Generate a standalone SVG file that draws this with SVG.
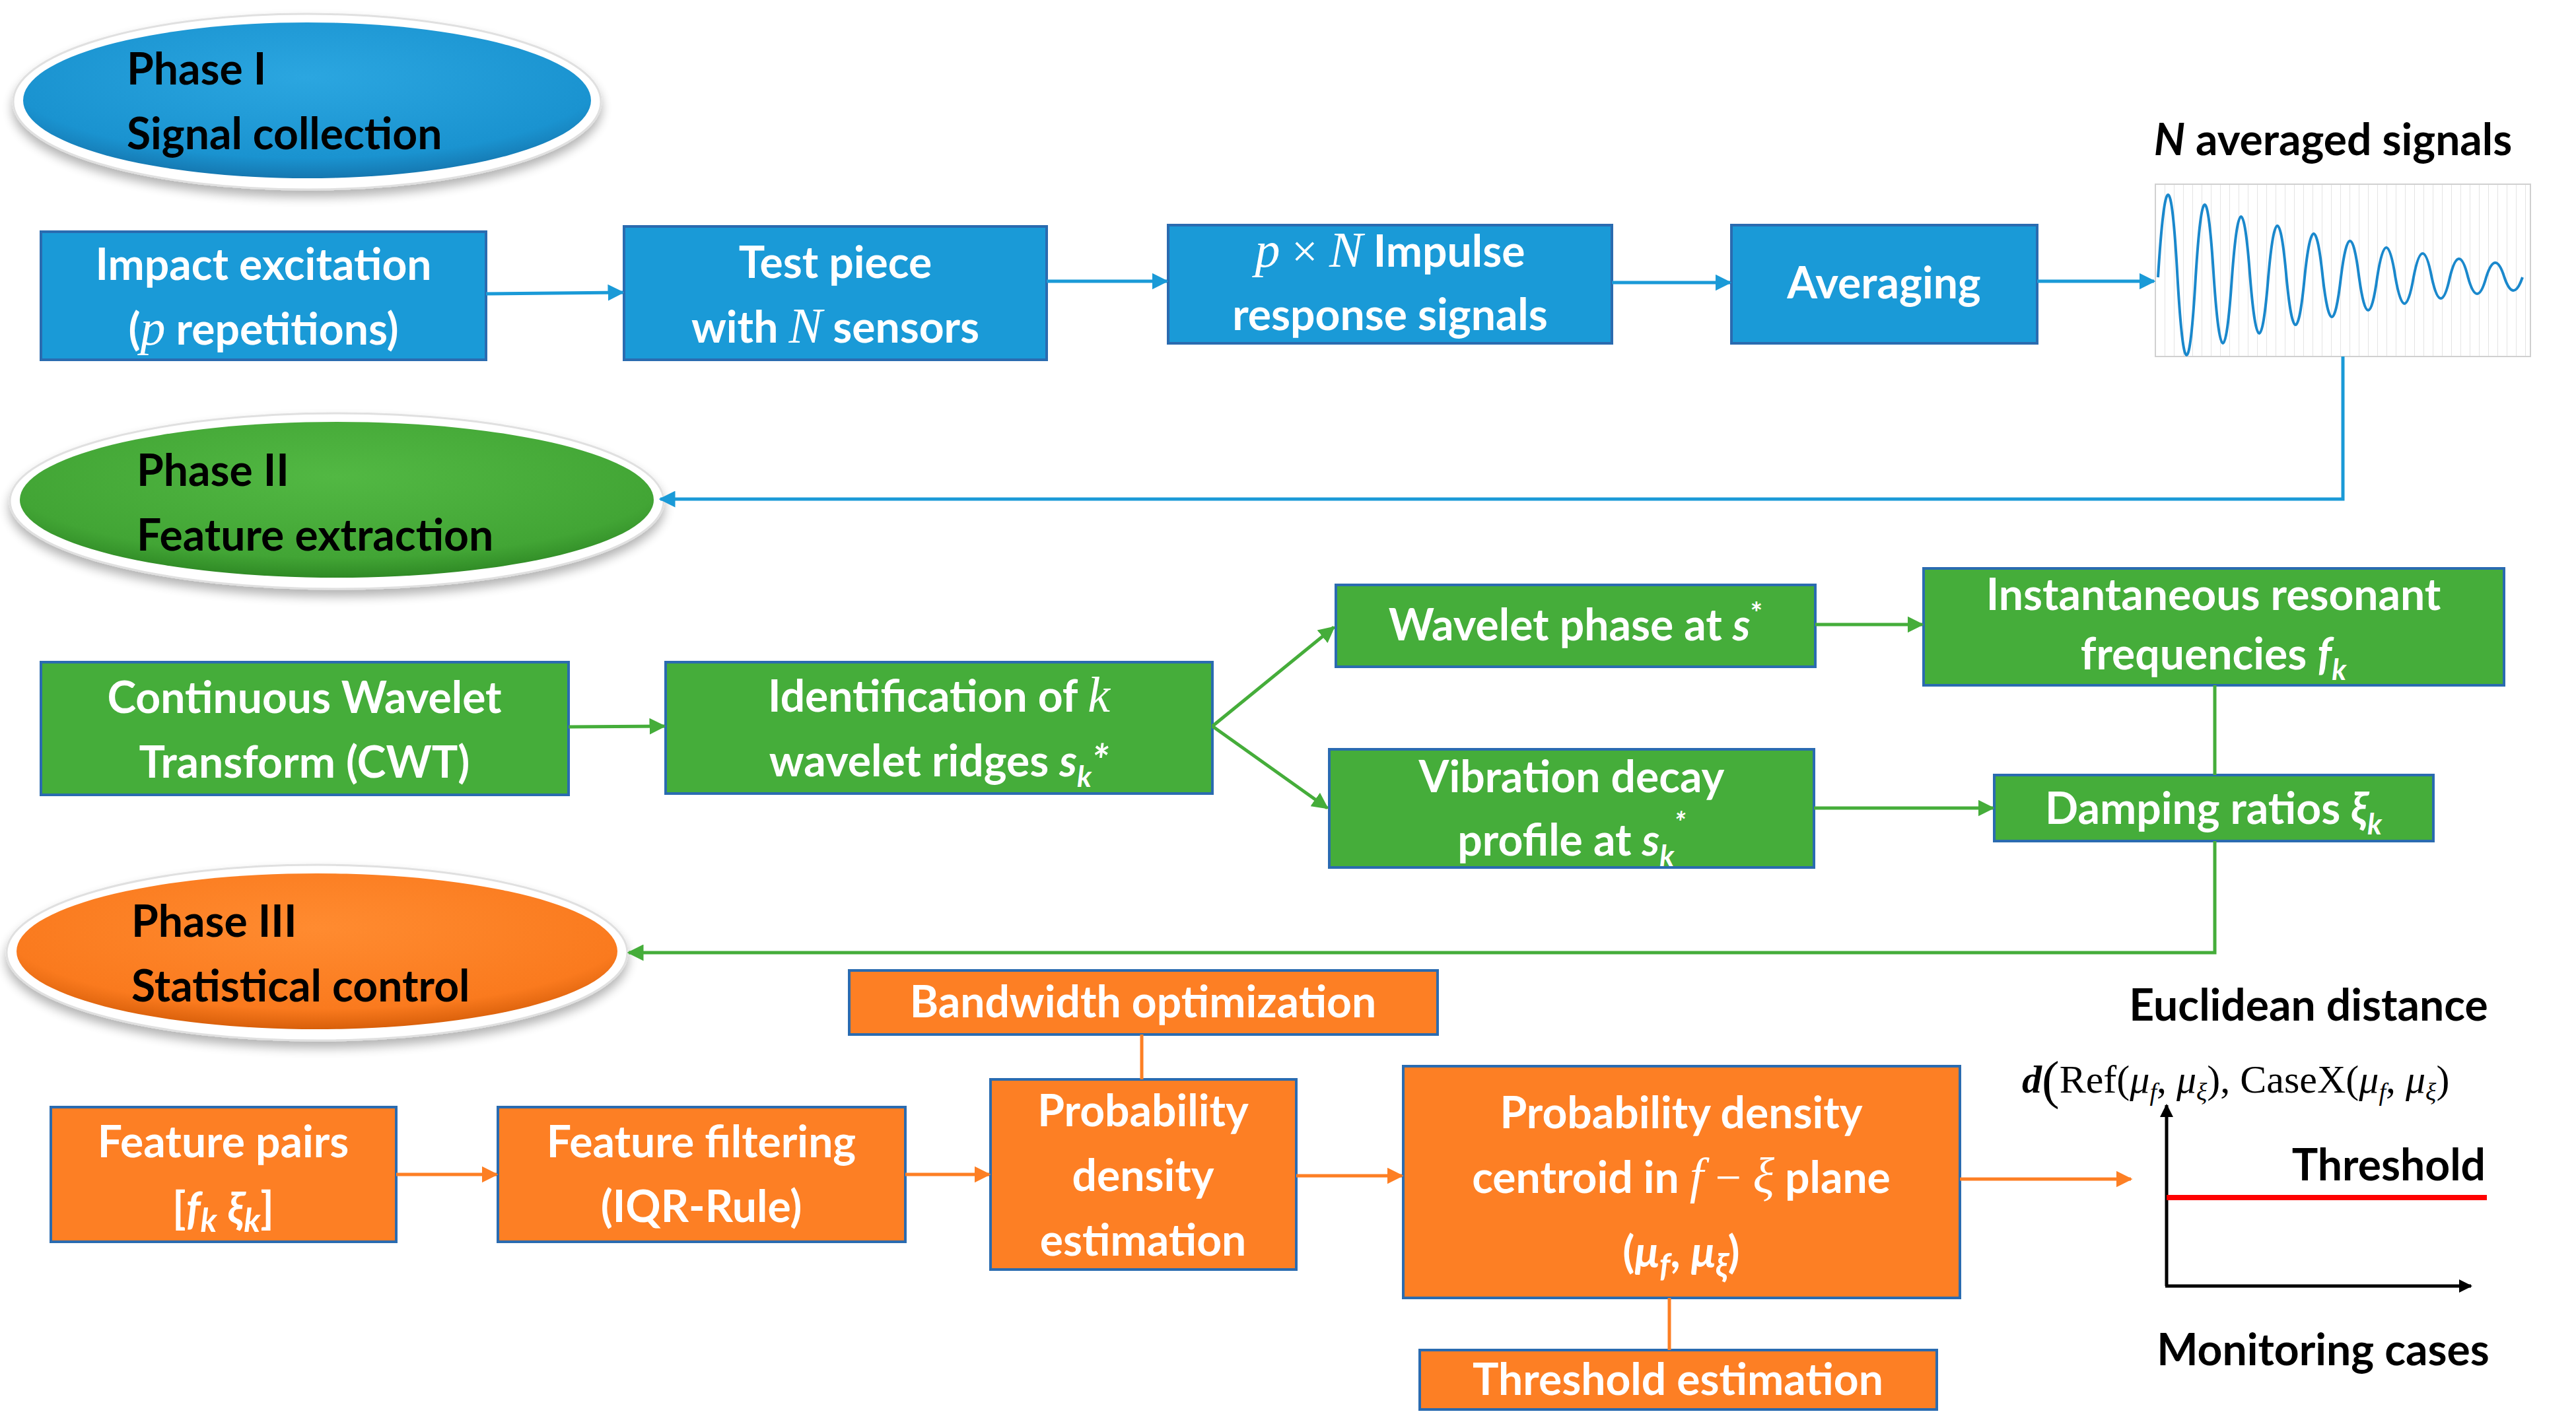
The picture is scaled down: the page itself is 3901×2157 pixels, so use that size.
<svg xmlns="http://www.w3.org/2000/svg" width="3901" height="2157" viewBox="0 0 3901 2157">
<defs>
<style>
.t{font-family:Lato,"Liberation Sans",sans-serif;font-weight:bold;font-size:66px;fill:#fff;text-anchor:middle}
.k{font-family:Lato,"Liberation Sans",sans-serif;font-weight:bold;font-size:66px;fill:#000}
.m{font-family:"Liberation Serif",serif;font-style:italic;font-weight:normal}
.bb{fill:#1A9AD7;stroke:#2A6BB0;stroke-width:4}
.gb{fill:#45AD3A;stroke:#2A6BB0;stroke-width:4}
.ob{fill:#FD7F24;stroke:#2A6BB0;stroke-width:4}
.cb{stroke:#1A9AD7;stroke-width:5;fill:none}
.cg{stroke:#45AD3A;stroke-width:5;fill:none}
.co{stroke:#FD7F24;stroke-width:5;fill:none}
</style>
<marker id="ab" viewBox="0 0 10 10" refX="9" refY="5" markerWidth="5" markerHeight="5" orient="auto"><path d="M0,0L10,5L0,10z" fill="#1A9AD7"/></marker>
<marker id="ag" viewBox="0 0 10 10" refX="9" refY="5" markerWidth="5" markerHeight="5" orient="auto"><path d="M0,0L10,5L0,10z" fill="#45AD3A"/></marker>
<marker id="ao" viewBox="0 0 10 10" refX="9" refY="5" markerWidth="5" markerHeight="5" orient="auto"><path d="M0,0L10,5L0,10z" fill="#FD7F24"/></marker>
<marker id="ak" viewBox="0 0 10 10" refX="9" refY="5" markerWidth="4" markerHeight="4" orient="auto"><path d="M0,0L10,5L0,10z" fill="#000"/></marker>
<radialGradient id="gB" cx="50%" cy="35%" r="65%"><stop offset="0" stop-color="#2BA6E0"/><stop offset="0.8" stop-color="#1A93D0"/><stop offset="1" stop-color="#1577B0"/></radialGradient>
<radialGradient id="gG" cx="50%" cy="35%" r="65%"><stop offset="0" stop-color="#52B843"/><stop offset="0.8" stop-color="#42A535"/><stop offset="1" stop-color="#2F8A25"/></radialGradient>
<radialGradient id="gO" cx="50%" cy="35%" r="65%"><stop offset="0" stop-color="#FF8B30"/><stop offset="0.8" stop-color="#FA7A1E"/><stop offset="1" stop-color="#D85F0A"/></radialGradient>
<filter id="sh" x="-10%" y="-20%" width="120%" height="150%"><feGaussianBlur in="SourceAlpha" stdDeviation="8"/><feOffset dy="10"/><feComponentTransfer><feFuncA type="linear" slope="0.3"/></feComponentTransfer><feMerge><feMergeNode/><feMergeNode in="SourceGraphic"/></feMerge></filter>
<pattern id="grid" width="14" height="300" patternUnits="userSpaceOnUse" x="3264"><line x1="0.5" y1="0" x2="0.5" y2="300" stroke="#e4e4e4" stroke-width="1"/></pattern>
</defs>
<rect width="3901" height="2157" fill="#fff"/>

<g id="phase1"><ellipse cx="465" cy="154" rx="445" ry="133" fill="#fff" stroke="#e0e0e0" stroke-width="3" filter="url(#sh)"/><ellipse cx="465" cy="152" rx="430" ry="118" fill="url(#gB)"/>
<text class="k" x="192" y="128">Phase I</text><text class="k" x="192" y="226">Signal collection</text></g>
<g id="phase2"><ellipse cx="510" cy="759" rx="495" ry="133" fill="#fff" stroke="#e0e0e0" stroke-width="3" filter="url(#sh)"/><ellipse cx="510" cy="757" rx="480" ry="118" fill="url(#gG)"/>
<text class="k" x="207" y="736">Phase II</text><text class="k" x="207" y="834">Feature extraction</text></g>
<g id="phase3"><ellipse cx="480" cy="1443" rx="470" ry="133" fill="#fff" stroke="#e0e0e0" stroke-width="3" filter="url(#sh)"/><ellipse cx="480" cy="1441" rx="455" ry="118" fill="url(#gO)"/>
<text class="k" x="199" y="1419">Phase III</text><text class="k" x="199" y="1517">Statistical control</text></g>

<g id="impact"><rect class="bb" x="62" y="351" width="674" height="194"/><text class="t" x="399" y="424">Impact excitation</text><text class="t" x="399" y="522">(<tspan class="m" font-size="76">p</tspan> repetitions)</text></g>
<g id="testpiece"><rect class="bb" x="945" y="343" width="640" height="202"/><text class="t" x="1265" y="421">Test piece</text><text class="t" x="1265" y="519">with <tspan class="m" font-size="76">N</tspan> sensors</text></g>
<g id="impulse"><rect class="bb" x="1769" y="341" width="672" height="179"/><text class="t" x="2105" y="404"><tspan class="m" font-size="76">p</tspan><tspan font-family="'Liberation Serif',serif" font-weight="normal" font-size="70"> × </tspan><tspan class="m" font-size="76">N</tspan> Impulse</text><text class="t" x="2105" y="500">response signals</text></g>
<g id="averaging"><rect class="bb" x="2622" y="341" width="463" height="179"/><text class="t" x="2853" y="452">Averaging</text></g>
<g id="signals"><text class="k" x="3533" y="235" text-anchor="middle"><tspan font-style="italic">N</tspan> averaged signals</text>
<rect x="3264" y="279" width="568" height="261" fill="url(#grid)" stroke="#d0d0d0" stroke-width="2"/>
<path d="M3268,420Q3283.75,170 3297.5,420Q3311.25,656 3325,420Q3338.75,200 3352.5,420Q3366.25,620 3380,420Q3393.75,236 3407.5,420Q3421.25,590 3435,420Q3448.75,264 3462.5,420Q3476.25,564 3490,420Q3503.75,288 3517.5,420Q3531.25,540 3545,420Q3558.75,310 3572.5,420Q3586.25,520 3600,420Q3613.75,330 3627.5,420Q3641.25,500 3655,420Q3668.75,348 3682.5,420Q3696.25,484 3710,420Q3723.75,364 3737.5,420Q3751.25,470 3765,420Q3778.75,376 3792.5,420Q3806.25,460 3820,420" fill="none" stroke="#1A88CC" stroke-width="4"/></g>

<g id="cwt"><rect class="gb" x="62" y="1003" width="799" height="201"/><text class="t" x="461" y="1080">Continuous Wavelet</text><text class="t" x="461" y="1178">Transform (CWT)</text></g>
<g id="ident"><rect class="gb" x="1008" y="1003" width="828" height="199"/><text class="t" x="1422" y="1078">Identification of <tspan class="m" font-size="76">k</tspan></text><text class="t" x="1422" y="1176">wavelet ridges <tspan font-style="italic">s<tspan font-size="44" dy="16">k</tspan><tspan dy="-16">*</tspan></tspan></text></g>
<g id="phase"><rect class="gb" x="2023" y="886" width="726" height="124"/><text class="t" x="2386" y="970">Wavelet phase at <tspan font-style="italic">s</tspan><tspan font-size="44" dy="-26">*</tspan></text></g>
<g id="inst"><rect class="gb" x="2913" y="861" width="879" height="177"/><text class="t" x="3352" y="924">Instantaneous resonant</text><text class="t" x="3352" y="1014">frequencies <tspan font-style="italic">f<tspan font-size="44" dy="16">k</tspan></tspan></text></g>
<g id="decay"><rect class="gb" x="2013" y="1135" width="734" height="179"/><text class="t" x="2380" y="1200">Vibration decay</text><text class="t" x="2380" y="1296">profile at <tspan font-style="italic">s<tspan font-size="44" dy="16">k</tspan><tspan font-size="44" dy="-50">*</tspan></tspan></text></g>
<g id="damping"><rect class="gb" x="3020" y="1174" width="665" height="100"/><text class="t" x="3352" y="1248">Damping ratios <tspan font-style="italic">ξ<tspan font-size="44" dy="16">k</tspan></tspan></text></g>

<g id="bandwidth"><rect class="ob" x="1286" y="1470" width="891" height="97"/><text class="t" x="1731" y="1541">Bandwidth optimization</text></g>
<g id="pairs"><rect class="ob" x="77" y="1677" width="523" height="204"/><text class="t" x="338" y="1753">Feature pairs</text><text class="t" x="338" y="1854" font-family="'Liberation Serif',serif" font-weight="normal" font-size="76">[<tspan font-style="italic">f<tspan font-size="50" dy="12">k</tspan></tspan><tspan dy="-12">   </tspan><tspan font-style="italic">ξ<tspan font-size="50" dy="12">k</tspan></tspan><tspan dy="-12">]</tspan></text></g>
<g id="filtering"><rect class="ob" x="754" y="1677" width="617" height="204"/><text class="t" x="1062" y="1753">Feature filtering</text><text class="t" x="1062" y="1851">(IQR-Rule)</text></g>
<g id="pde"><rect class="ob" x="1500" y="1635" width="463" height="288"/><text class="t" x="1731" y="1706">Probability</text><text class="t" x="1731" y="1804">density</text><text class="t" x="1731" y="1902">estimation</text></g>
<g id="centroid"><rect class="ob" x="2125" y="1615" width="843" height="351"/><text class="t" x="2546" y="1709">Probability density</text><text class="t" x="2546" y="1807">centroid in <tspan class="m" font-size="76">f</tspan><tspan font-family="'Liberation Serif',serif" font-weight="normal" font-size="70"> − </tspan><tspan class="m" font-size="76">ξ</tspan> plane</text><text class="t" x="2546" y="1920" font-family="'Liberation Serif',serif" font-weight="normal" font-size="84">(<tspan font-style="italic">μ<tspan font-size="50" dy="14">f</tspan></tspan><tspan dy="-14">, </tspan><tspan font-style="italic">μ<tspan font-size="50" dy="14">ξ</tspan></tspan><tspan dy="-14">)</tspan></text></g>
<g id="threshold"><rect class="ob" x="2150" y="2045" width="783" height="90"/><text class="t" x="2541" y="2113">Threshold estimation</text></g>

<g id="chart"><text class="k" x="3496" y="1546" text-anchor="middle">Euclidean distance</text>
<text x="3062" y="1655" font-family="'Liberation Serif',serif" font-size="60" fill="#000"><tspan font-style="italic" font-weight="bold">d</tspan><tspan font-size="80" dy="8">(</tspan><tspan dy="-8">Ref(</tspan><tspan font-style="italic">μ<tspan font-size="38" dy="12">f</tspan></tspan><tspan dy="-12">, </tspan><tspan font-style="italic">μ<tspan font-size="38" dy="12">ξ</tspan></tspan><tspan dy="-12">), CaseX(</tspan><tspan font-style="italic">μ<tspan font-size="38" dy="12">f</tspan></tspan><tspan dy="-12">, </tspan><tspan font-style="italic">μ<tspan font-size="38" dy="12">ξ</tspan></tspan><tspan dy="-12">)</tspan></text>
<line x1="3281" y1="1948" x2="3281" y2="1674" stroke="#000" stroke-width="5" marker-end="url(#ak)"/>
<line x1="3279" y1="1948" x2="3742" y2="1948" stroke="#000" stroke-width="5" marker-end="url(#ak)"/>
<line x1="3281" y1="1814" x2="3766" y2="1814" stroke="#F00" stroke-width="8"/>
<text class="k" x="3764" y="1788" text-anchor="end" font-size="54">Threshold</text>
<text class="k" x="3518" y="2068" text-anchor="middle">Monitoring cases</text></g>

<g id="connectors">
<line class="cb" x1="736" y1="445" x2="943" y2="443" marker-end="url(#ab)"/>
<line class="cb" x1="1585" y1="426" x2="1767" y2="426" marker-end="url(#ab)"/>
<line class="cb" x1="2441" y1="428" x2="2620" y2="428" marker-end="url(#ab)"/>
<line class="cb" x1="3085" y1="426" x2="3262" y2="426" marker-end="url(#ab)"/>
<polyline class="cb" points="3548,540 3548,756 1000,756" marker-end="url(#ab)"/>
<line class="cg" x1="861" y1="1101" x2="1006" y2="1100" marker-end="url(#ag)"/>
<line class="cg" x1="1836" y1="1100" x2="2020" y2="950" marker-end="url(#ag)"/>
<line class="cg" x1="1836" y1="1100" x2="2010" y2="1224" marker-end="url(#ag)"/>
<line class="cg" x1="2749" y1="946" x2="2911" y2="946" marker-end="url(#ag)"/>
<line class="cg" x1="2747" y1="1224" x2="3018" y2="1224" marker-end="url(#ag)"/>
<line class="cg" x1="3354" y1="1038" x2="3354" y2="1174"/>
<polyline class="cg" points="3354,1274 3354,1443 952,1443" marker-end="url(#ag)"/>
<line class="co" x1="600" y1="1779" x2="752" y2="1779" marker-end="url(#ao)"/>
<line class="co" x1="1371" y1="1779" x2="1498" y2="1779" marker-end="url(#ao)"/>
<line class="co" x1="1963" y1="1781" x2="2123" y2="1781" marker-end="url(#ao)"/>
<line class="co" x1="2968" y1="1786" x2="3227" y2="1786" marker-end="url(#ao)"/>
<line class="co" x1="1729" y1="1567" x2="1729" y2="1635"/>
<line class="co" x1="2528" y1="1966" x2="2528" y2="2045"/>
</g>
</svg>
